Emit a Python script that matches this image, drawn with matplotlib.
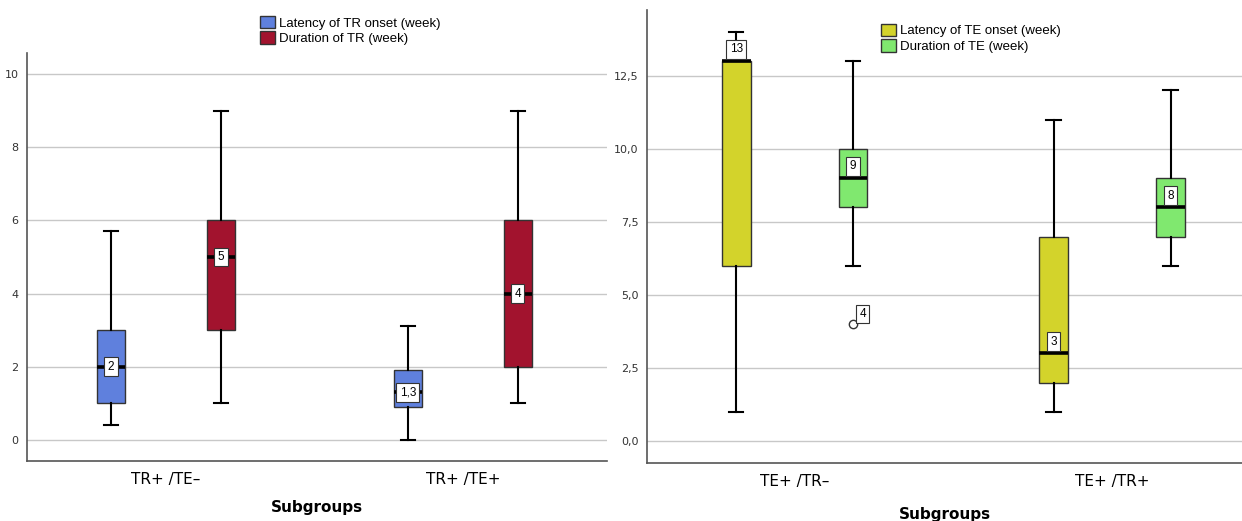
"""Boxplots des latences et durees TR / TE par sous-groupe."""

import matplotlib
matplotlib.use("Agg")
import matplotlib.pyplot as plt
from matplotlib.patches import Patch

plt.rcParams['font.family'] = ['DejaVu Sans']
POLICE_LEG = ['Liberation Sans', 'DejaVu Sans']

# panneau gauche : TR
GROUPES_TR = ["TR+ /TE\u2013", "TR+ /TE+"]
LAT_TR = [  # bas, Q1, mediane, Q3, haut
    [0.4, 1.0, 2.0, 3.0, 5.7],
    [0.0, 0.9, 1.3, 1.9, 3.1],
]
DUR_TR = [
    [1.0, 3.0, 5.0, 6.0, 9.0],
    [1.0, 2.0, 4.0, 6.0, 9.0],
]
ETIQ_LAT_TR = ["2", "1,3"]
ETIQ_DUR_TR = ["5", "4"]

# panneau droit : TE
GROUPES_TE = ["TE+ /TR\u2013", "TE+ /TR+"]
LAT_TE = [
    [1.0, 6.0, 13.0, 13.0, 14.0],
    [1.0, 2.0, 3.0, 7.0, 11.0],
]
DUR_TE = [
    [6.0, 8.0, 9.0, 10.0, 13.0],
    [6.0, 7.0, 8.0, 9.0, 12.0],
]
OUTLIERS_DUR_TE = [[4.0], []]
ETIQ_LAT_TE = ["13", "3"]
ETIQ_DUR_TE = ["9", "8"]
ETIQ_OUT_TE = ["4"]

BLEU = "#5f80dd"
ROUGE = "#a2132e"
JAUNE = "#d3d32b"
VERT = "#80e86f"


def stats(v, fliers=None):
    return {"whislo": v[0], "q1": v[1], "med": v[2], "q3": v[3], "whishi": v[4],
            "fliers": fliers or []}


def dessiner(ax, lat, dur, couleurs, decalage, largeur, fliers_dur=None):
    fliers_dur = fliers_dur or [[] for _ in dur]
    for serie, dx, coul, fl in [(lat, -decalage, couleurs[0], [[] for _ in lat]),
                                 (dur, decalage, couleurs[1], fliers_dur)]:
        st = [stats(v, f) for v, f in zip(serie, fl)]
        pos = [i + dx for i in range(len(serie))]
        ax.bxp(st, positions=pos, widths=largeur, patch_artist=True,
               showfliers=True, manage_ticks=False,
               boxprops=dict(facecolor=coul, edgecolor="#333333", linewidth=1.0),
               whiskerprops=dict(color="black", linewidth=1.5),
               capprops=dict(color="black", linewidth=1.5),
               capwidths=largeur * 0.5,
               medianprops=dict(color="black", linewidth=2.6),
               flierprops=dict(marker="o", markerfacecolor="white",
                               markeredgecolor="#333333", markersize=6))


def etiquette(ax, x, y, txt):
    ax.text(x, y, txt, ha="center", va="center", fontsize=8.5, zorder=5,
            family=POLICE_LEG,
            bbox=dict(boxstyle="square,pad=0.28", facecolor="white",
                      edgecolor="#333333", linewidth=0.8))


def style_axe(ax, pad_label):
    for s in ["top", "right"]:
        ax.spines[s].set_visible(False)
    for s in ["left", "bottom"]:
        ax.spines[s].set_color("#555555")
        ax.spines[s].set_linewidth(1.2)
    ax.yaxis.grid(True, color="#c8c8c8", linewidth=1.0)
    ax.set_axisbelow(True)
    ax.tick_params(axis="y", length=0, labelsize=8, colors="#333333", pad=6)
    ax.tick_params(axis="x", length=0, labelsize=11, pad=8)
    ax.set_xticks(range(2))
    ax.set_xlabel("Subgroups", fontsize=11, fontweight="bold", labelpad=pad_label)


def legende(fig, elements, x, y):
    fig.legend(handles=[Patch(facecolor=c, edgecolor="#333333", label=l) for c, l in elements],
               loc="upper left", bbox_to_anchor=(x, y), frameon=False,
               prop=dict(family=POLICE_LEG, size=9.5), handlelength=1.1,
               handleheight=1.1, handletextpad=0.3, labelspacing=0.12, borderpad=0.1)


fig = plt.figure(figsize=(12.42, 5.21), dpi=100)

# --- gauche
ax1 = fig.add_axes([0.0217, 0.1152, 0.4670, 0.7830])
dessiner(ax1, LAT_TR, DUR_TR, (BLEU, ROUGE), 0.185, 0.094)
style_axe(ax1, 9)
ax1.set_xticklabels(GROUPES_TR)
ax1.set_xlim(-0.468, 1.485)
ax1.set_ylim(-0.574, 10.57)
ax1.set_yticks([0, 2, 4, 6, 8, 10])
for i in range(2):
    etiquette(ax1, i - 0.185, LAT_TR[i][2], ETIQ_LAT_TR[i])
    etiquette(ax1, i + 0.185, DUR_TR[i][2], ETIQ_DUR_TR[i])
legende(fig, [(BLEU, "Latency of TR onset (week)"), (ROUGE, "Duration of TR (week)")],
        0.203, 0.985)

# --- droite
ax2 = fig.add_axes([0.5209, 0.1113, 0.4791, 0.8700])
dessiner(ax2, LAT_TE, DUR_TE, (JAUNE, VERT), 0.184, 0.091, OUTLIERS_DUR_TE)
style_axe(ax2, 13)
ax2.set_xticklabels(GROUPES_TE)
ax2.set_xlim(-0.465, 1.409)
ax2.set_ylim(-0.75, 14.76)
ax2.set_yticks([0, 2.5, 5, 7.5, 10, 12.5])
ax2.set_yticklabels(["0,0", "2,5", "5,0", "7,5", "10,0", "12,5"])
etiquette(ax2, 0 - 0.184, 13.4, ETIQ_LAT_TE[0])
etiquette(ax2, 1 - 0.184, 3.4, ETIQ_LAT_TE[1])
etiquette(ax2, 0 + 0.184, 9.4, ETIQ_DUR_TE[0])
etiquette(ax2, 1 + 0.184, 8.4, ETIQ_DUR_TE[1])
etiquette(ax2, 0 + 0.184 + 0.03, 4.35, ETIQ_OUT_TE[0])
legende(fig, [(JAUNE, "Latency of TE onset (week)"), (VERT, "Duration of TE (week)")],
        0.703, 0.970)

fig.savefig("out.png", dpi=100)
